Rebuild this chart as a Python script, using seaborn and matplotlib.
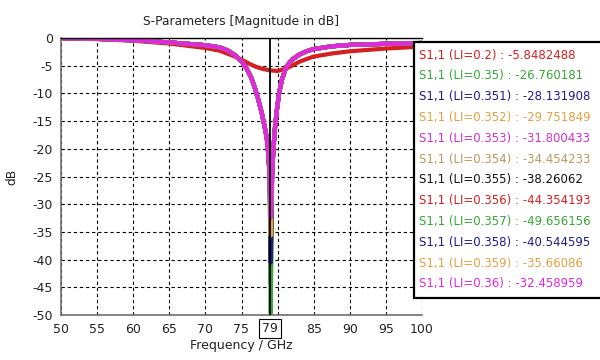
import numpy as np
import pandas as pd
import matplotlib
matplotlib.use("Agg")
import matplotlib.pyplot as plt
import seaborn as sns
from matplotlib.patches import Rectangle

# ---- data ----
li_values = ["0.2", "0.35", "0.351", "0.352", "0.353", "0.354", "0.355",
             "0.356", "0.357", "0.358", "0.359", "0.36"]
marker_values = ["-5.8482488", "-26.760181", "-28.131908", "-29.751849",
                 "-31.800433", "-34.454233", "-38.26062", "-44.354193",
                 "-49.656156", "-40.544595", "-35.66086", "-32.458959"]
colors = ["#d42020", "#35a835", "#1c1c90", "#e6a040", "#d030d0", "#b89a5a",
          "#111111", "#d42020", "#35a835", "#1c1c90", "#e6a040", "#dd2add"]

# LI = 0.2 (broad shallow dip)
freq_wide = [50, 55, 60, 65, 70, 72, 74, 75, 76, 77, 78, 79, 80, 81, 82, 83,
             84, 85, 87.5, 90, 95, 100]
s11_wide = [0.0, -0.2, -0.5, -1.0, -1.8, -2.3, -3.3, -3.9, -4.6, -5.2, -5.6,
            -5.85, -5.95, -5.6, -5.0, -4.3, -3.8, -3.35, -2.8, -2.4, -1.9, -1.55]

# LI = 0.35 ... 0.36 (sharp resonance) - shared flanks
freq_sharp_left = [50, 55, 60, 65, 70, 72, 73, 74, 75, 75.7, 76.3, 76.8, 77.3,
                   77.8, 78.2, 78.5, 78.75, 78.9]
s11_sharp_left = [0.0, -0.15, -0.4, -0.8, -1.3, -1.7, -2.2, -3.0, -4.2, -5.5,
                  -7.0, -8.8, -11.0, -13.5, -16.0, -18.0, -21.5, -25.0]
freq_dip = 79.05
freq_sharp_right = [79.25, 79.45, 79.65, 79.9, 80.2, 80.6, 81.2, 82, 83, 84,
                    85, 87.5, 90, 95, 100]
s11_sharp_right = [-24.0, -19.5, -16.0, -13.0, -10.0, -7.5, -5.2, -3.9, -3.0,
                   -2.4, -2.0, -1.5, -1.25, -1.05, -0.9]
dip_depths = [-26.76, -28.13, -29.75, -31.80, -34.45, -38.26, -44.35, -49.66,
              -40.54, -35.66, -32.46]

marker_freq = 79
x_ticks = [50, 55, 60, 65, 70, 75, 80, 85, 90, 95, 100]
y_ticks = [0, -5, -10, -15, -20, -25, -30, -35, -40, -45, -50]

# ---- build long table ----
rows = []
labels = [f"S1,1 (LI={li})" for li in li_values]
for f, v in zip(freq_wide, s11_wide):
    rows.append((labels[0], f, v))
for lab, d in zip(labels[1:], dip_depths):
    fs = freq_sharp_left + [freq_dip] + freq_sharp_right
    vs = s11_sharp_left + [d] + s11_sharp_right
    for f, v in zip(fs, vs):
        rows.append((lab, f, v))
df = pd.DataFrame(rows, columns=["curve", "freq", "s11"])

# ---- plot ----
sns.set_style("white")
plt.rcParams["font.family"] = ["DejaVu Sans"]
plt.rcParams["axes.unicode_minus"] = False

fig = plt.figure(figsize=(6, 3.6), dpi=100)
ax = fig.add_axes([61 / 600, 45 / 360, 361 / 600, 277 / 360])

sns.lineplot(data=df, x="freq", y="s11", hue="curve", hue_order=labels,
             palette=dict(zip(labels, colors)), linewidth=3, legend=False,
             ax=ax, sort=True, estimator=None)

ax.set_xlim(50, 100)
ax.set_ylim(-50, 0)
ax.set_xticks(x_ticks)
ax.set_xticklabels(["" if t == 80 else str(t) for t in x_ticks], fontsize=9)
ax.set_yticks(y_ticks)
ax.set_yticklabels([str(t) for t in y_ticks], fontsize=9)
ax.tick_params(axis="both", direction="out", length=4, width=0.8,
               color="#555555", pad=2, labelcolor="#222222")
ax.grid(True, color="black", linestyle=(0, (3, 2.5)), linewidth=0.8)
ax.set_axisbelow(True)
for side in ["left", "bottom"]:
    ax.spines[side].set_color("#707070")
    ax.spines[side].set_linewidth(1.2)
ax.spines["top"].set_color("black")
ax.spines["top"].set_linewidth(1.0)
ax.spines["right"].set_visible(False)

ax.axvline(marker_freq, color="black", linewidth=1.3, zorder=5)
ax.text(marker_freq, -51.3, str(marker_freq), ha="center", va="top",
        fontsize=9, color="#222222",
        bbox=dict(boxstyle="square,pad=0.25", fc="white", ec="black", lw=0.8),
        clip_on=False)

ax.set_title("S-Parameters [Magnitude in dB]", fontsize=8.8, color="#222222",
             pad=9)
ax.set_xlabel("Frequency / GHz", fontsize=9, color="#222222", labelpad=2)
ax.set_ylabel("dB", fontsize=8.8, color="#222222", labelpad=10)

# ---- legend box (marker readout) ----
box = Rectangle((414 / 600, 62 / 360), 200 / 600, 256 / 360,
                transform=fig.transFigure, facecolor="white",
                edgecolor="black", linewidth=1.6, zorder=10)
fig.add_artist(box)
for i, (lab, val, col) in enumerate(zip(labels, marker_values, colors)):
    y_px = 55 + i * 20.8
    fig.text(419 / 600, 1 - y_px / 360, f"{lab} : {val}", color=col,
             fontsize=8.5, ha="left", va="center", zorder=11)

fig.savefig("out.png", dpi=100)
